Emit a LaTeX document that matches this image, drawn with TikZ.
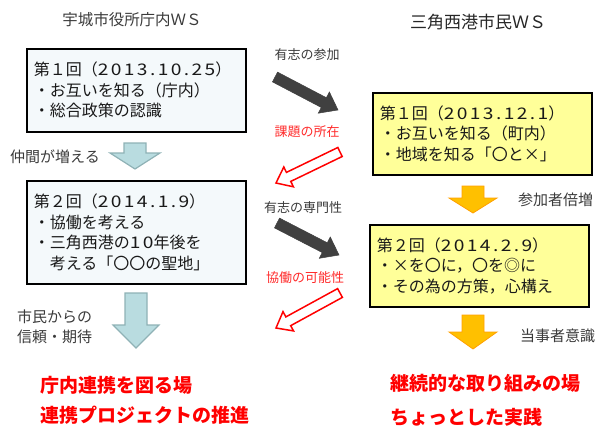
\documentclass[tikz,border=0pt]{standalone}
\usepackage{fontspec}
\setmainfont{Noto Sans CJK JP}
\newfontfamily\numfont[FakeStretch=1.2,LetterSpace=15]{Noto Sans CJK JP}
\newcommand{\nm}[1]{{\numfont #1}}
\usetikzlibrary{calc}
\definecolor{lbl}{HTML}{3A3A3A}
\definecolor{darkarr}{HTML}{404040}
\definecolor{bluefill}{HTML}{B9DCE0}
\definecolor{blueedge}{HTML}{8FB2B6}
\definecolor{orangefill}{HTML}{FFC000}
\definecolor{orangeedge}{HTML}{FFA000}
\definecolor{leftbox}{HTML}{F4F9FB}
\definecolor{rightbox}{HTML}{FFFF99}
\definecolor{redlbl}{HTML}{FF2A2A}
\newcommand{\blockarrow}[7]{%
  % #1 style, #2 start, #3 tip, #4 shaft half width, #5 head half width, #6 head length, #7 name
  \coordinate (#7-h) at ($(#3)!#6!(#2)$);
  \draw[#1] ($(#2)!#4!90:(#3)$) -- ($(#7-h)!#4!90:(#3)$) -- ($(#7-h)!#5!90:(#3)$)
    -- (#3) -- ($(#7-h)!#5!-90:(#3)$) -- ($(#7-h)!#4!-90:(#3)$) -- ($(#2)!#4!-90:(#3)$) -- cycle;
}
\tikzset{
  boxtext/.style={anchor=north west, draw=black, line width=1.6pt, inner xsep=7pt, inner ysep=0pt,
    text width=205pt, minimum height=#1, align=left, font=\fontsize{16}{20.5}\selectfont, text=black!90},
  lbltext/.style={font=\fontsize{13}{16}\selectfont, text=lbl, inner sep=0pt},
  sidetext/.style={font=\fontsize{15}{20}\selectfont, text=lbl, inner sep=0pt, anchor=west, align=left},
  redtext/.style={font=\fontsize{13}{16}\selectfont, text=redlbl, inner sep=0pt},
  bigred/.style={font=\fontsize{19}{22}\bfseries\selectfont, text=red, inner sep=0pt, anchor=west},
  darkstyle/.style={fill=darkarr, draw=darkarr, line width=0.5pt},
  redoutline/.style={fill=white, draw=red, line width=1.5pt, line join=miter},
  bluestyle/.style={fill=bluefill, draw=blueedge, line width=1.2pt},
  orangestyle/.style={fill=orangefill, draw=orangeedge, line width=0.8pt},
}
\begin{document}
\begin{tikzpicture}[x=1pt, y=-1pt]
\useasboundingbox (0,0) rectangle (603,428);

% titles
\node[font=\fontsize{15.5}{18}\selectfont, text=lbl, inner sep=0pt] (t1) at (132,20) {宇城市役所庁内ＷＳ};
\node[font=\fontsize{17}{20}\selectfont, text=black!85, inner sep=0pt] (t2) at (478,22) {三角西港市民ＷＳ};

% left boxes
\node[boxtext=83pt, fill=leftbox] (L1) at (26,48) {第１回（\nm{2013.10.25}）\\・お互いを知る（庁内）\\・総合政策の認識};
\node[boxtext=103pt, fill=leftbox] (L2) at (26,180) {第２回（\nm{2014.1.9}）\\・協働を考える\\・三角西港の\nm{10}年後を\\\hspace*{16pt}考える「〇〇の聖地」};

% right boxes
\node[boxtext=82pt, fill=rightbox] (R1) at (372,92) {第１回（\nm{2013.12.1}）\\・お互いを知る（町内）\\・地域を知る「〇と×」};
\node[boxtext=82pt, fill=rightbox] (R2) at (369,224) {第２回（\nm{2014.2.9}）\\・×を〇に，〇を◎に\\・その為の方策，心構え};

% vertical arrows
\coordinate (ba1s) at (135,143); \coordinate (ba1t) at (135,169);
\blockarrow{bluestyle}{ba1s}{ba1t}{11pt}{25pt}{16pt}{ba1}
\coordinate (ba2s) at (136,293); \coordinate (ba2t) at (136,348);
\blockarrow{bluestyle}{ba2s}{ba2t}{11pt}{23pt}{23pt}{ba2}
\coordinate (oa1s) at (473,186); \coordinate (oa1t) at (473,213);
\blockarrow{orangestyle}{oa1s}{oa1t}{11pt}{24pt}{15pt}{oa1}
\coordinate (oa2s) at (473,315); \coordinate (oa2t) at (473,349);
\blockarrow{orangestyle}{oa2s}{oa2t}{11pt}{24pt}{17pt}{oa2}

% diagonal arrows
\coordinate (da1s) at (275,77); \coordinate (da1t) at (338,110);
\blockarrow{darkstyle}{da1s}{da1t}{5.5pt}{12pt}{16pt}{da1}
\coordinate (da2s) at (277,223); \coordinate (da2t) at (339,255);
\blockarrow{darkstyle}{da2s}{da2t}{5.5pt}{12pt}{16pt}{da2}
\coordinate (ra1s) at (340,152); \coordinate (ra1t) at (276,183);
\blockarrow{redoutline}{ra1s}{ra1t}{5pt}{11pt}{14pt}{ra1}
\coordinate (ra2s) at (340,293); \coordinate (ra2t) at (276,328);
\blockarrow{redoutline}{ra2s}{ra2t}{5pt}{11pt}{14pt}{ra2}

% diagonal labels
\node[lbltext] (d1) at (307,55) {有志の参加};
\node[redtext] (r1) at (307,132) {課題の所在};
\node[lbltext] (d2) at (303,208) {有志の専門性};
\node[redtext] (r2) at (305,278) {協働の可能性};

% side labels
\node[sidetext] (s1) at (10,157) {仲間が増える};
\node[sidetext] (s2) at (17,327) {市民からの\\信頼・期待};
\node[sidetext] (s3) at (518,200) {参加者倍増};
\node[sidetext] (s4) at (520,336) {当事者意識};

% conclusions
\node[bigred] (c1) at (40,385) {庁内連携を図る場};
\node[bigred] (c2) at (40,415) {連携プロジェクトの推進};
\node[bigred] (c3) at (390,383) {継続的な取り組みの場};
\node[bigred] (c4) at (390,417) {ちょっとした実践};
\end{tikzpicture}
\end{document}
